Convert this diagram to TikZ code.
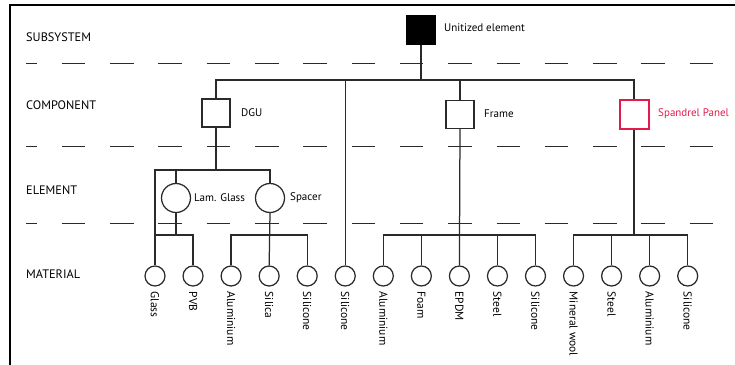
\documentclass[tikz,border=0pt]{standalone}
\usepackage{fontspec}
\setmainfont{PT Sans}
\definecolor{linegray}{HTML}{2A2A2A}
\definecolor{spandrelred}{HTML}{E6194B}
\begin{document}
\begin{tikzpicture}[x=1pt,y=-1pt,
  conn/.style={draw=linegray,line width=1.25pt},
  levelline/.style={draw=linegray,line width=1pt,dash pattern=on 23.5pt off 24.8pt,dash phase=12.5pt},
  levelname/.style={anchor=west,font=\fontsize{12.3}{14}\selectfont,inner sep=0pt},
  sqbox/.style={draw=linegray,line width=1.25pt,minimum size=28pt,inner sep=0pt},
  elcirc/.style={circle,draw=linegray,line width=1.25pt,minimum size=29pt,inner sep=0pt},
  matcirc/.style={circle,draw=linegray,line width=1.25pt,minimum size=20pt,inner sep=0pt},
  tag/.style={anchor=west,font=\fontsize{11}{13}\selectfont,inner sep=0pt},
  mattag/.style={anchor=west,rotate=-90,font=\fontsize{11.5}{13}\selectfont,inner sep=0pt}
]
\useasboundingbox (0,0) rectangle (735,364);

% outer frame (left and top edges)
\draw[line width=2pt] (10,370) -- (10,5) -- (745,5);

% level separators
\draw[levelline] (26,63.3) -- (740,63.3);
\draw[levelline] (26,146) -- (740,146);
\draw[levelline] (26,223) -- (740,223);

% level names
\node[levelname] (lvsub) at (26,37) {SUBSYSTEM};
\node[levelname] (lvcomp) at (26,105) {COMPONENT};
\node[levelname] (lvelem) at (26,190) {ELEMENT};
\node[levelname] (lvmat) at (26,274) {MATERIAL};

% subsystem
\node[sqbox,fill=black,draw=black] (unit) at (421,30) {};
\node[tag] (unitl) at (444,28) {Unitized element};

% components
\node[sqbox] (dgu) at (216,113) {};
\node[tag] (dgul) at (241,113) {DGU};
\node[sqbox] (frame) at (460,114.5) {};
\node[tag] (framel) at (484,114) {Frame};
\node[sqbox,draw=spandrelred,line width=2pt,minimum size=29pt] (span) at (634,114) {};
\node[tag,text=spandrelred] (spanl) at (658,114) {Spandrel Panel};

% elements
\node[elcirc] (lam) at (176,198) {};
\node[tag] (laml) at (194,198) {Lam. Glass};
\node[elcirc] (spacer) at (270,198) {};
\node[tag] (spacerl) at (290,198) {Spacer};

% materials
\foreach \i/\nm/\txt in {0/glass/Glass,1/pvb/PVB,2/aluA/Aluminium,3/silica/Silica,
  4/silcA/Silicone,5/silcB/Silicone,6/aluB/Aluminium,7/foam/Foam,8/epdm/EPDM,
  9/steelA/Steel,10/silcC/Silicone,11/wool/Mineral wool,12/steelB/Steel,
  13/aluC/Aluminium,14/silcD/Silicone}{
  \node[matcirc] (\nm) at ({155+38.05*\i},276) {};
  \node[mattag] (\nm l) at ([yshift=-5pt]\nm.south) {\txt};
}

% junction points
\coordinate (topbus) at (421,80);
\coordinate (dgubus) at (216,170);
\coordinate (lambus) at (176,235);
\coordinate (spacerbus) at (270,235);
\coordinate (framebus) at (460,235);
\coordinate (spanbus) at (634,235);

% subsystem -> components
\draw[conn] (unit.south) -- (topbus);
\draw[conn] (dgu.north) |- (topbus) -| (span.north);
\draw[conn] (frame.north) -- (frame.north |- topbus);
\draw[conn] (silcB.north) -- (silcB.north |- topbus);

% DGU -> elements
\draw[conn] (dgu.south) -- (dgubus);
\draw[conn] (glass.north) |- (dgubus) -| (spacer.north);
\draw[conn] (lam.north) -- (lam.north |- dgubus);

% laminated glass -> materials
\draw[conn] (lam.south) -- (lambus);
\draw[conn] (glass.north |- lambus) -| (pvb.north);

% spacer -> materials
\draw[conn] (spacer.south) -- (silica.north);
\draw[conn] (aluA.north) |- (spacerbus) -| (silcA.north);

% frame -> materials
\draw[conn] (frame.south) -- (epdm.north);
\draw[conn] (aluB.north) |- (framebus) -| (silcC.north);
\draw[conn] (foam.north) -- (foam.north |- framebus);
\draw[conn] (steelA.north) -- (steelA.north |- framebus);

% spandrel panel -> materials
\draw[conn] (span.south) -- (spanbus);
\draw[conn] (wool.north) |- (spanbus) -| (silcD.north);
\draw[conn] (steelB.north) -- (steelB.north |- spanbus);
\draw[conn] (aluC.north) -- (aluC.north |- spanbus);
\end{tikzpicture}
\end{document}
